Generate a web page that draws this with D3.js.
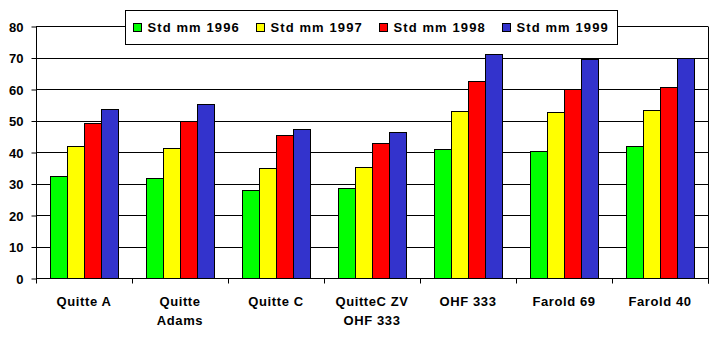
<!DOCTYPE html>
<html><head><meta charset="utf-8">
<script src="https://cdn.jsdelivr.net/npm/d3@7"></script>
<style>
html,body{margin:0;padding:0;background:#fff;}
svg text{font-family:"Liberation Sans",Arial,sans-serif;font-weight:bold;font-size:13px;fill:#000;}
</style></head>
<body><svg id="c" width="713" height="346"></svg>
<script>
const categories = [["Quitte A"],["Quitte","Adams"],["Quitte C"],["QuitteC ZV","OHF 333"],["OHF 333"],["Farold 69"],["Farold 40"]];
const seriesNames = ["Std mm 1996","Std mm 1997","Std mm 1998","Std mm 1999"];
const std1996 = [32.3, 31.6, 27.8, 28.5, 40.8, 40.2, 41.8];
const std1997 = [41.9, 41.2, 34.8, 35.2, 52.9, 52.6, 53.2];
const std1998 = [49.1, 49.9, 45.4, 42.7, 62.5, 60.0, 60.5];
const std1999 = [53.6, 55.1, 47.2, 46.2, 71.0, 69.4, 70.0];
const yTicks = [0,10,20,30,40,50,60,70,80];
const colors = ["#00FF00","#FFFF00","#FF0000","#3333CC"];

const series = [std1996, std1997, std1998, std1999];
const svg = d3.select("#c");
const L=36, R=708, T=26, B=278;
const catIdx = categories.map((d,i)=>i);
const x = d3.scaleBand().domain(catIdx).range([L,R]).paddingInner(0).paddingOuter(0);
const xs = d3.scaleBand().domain(d3.range(series.length)).range([13.5, x.bandwidth()-13.5]).padding(0);
const y = d3.scaleLinear().domain([0,80]).range([B,T]);

// gridlines
svg.append("g").selectAll("line").data(yTicks.filter(t=>t>0)).join("line")
  .attr("x1",L).attr("x2",R).attr("y1",d=>Math.round(y(d))+0.5).attr("y2",d=>Math.round(y(d))+0.5)
  .attr("stroke","#000").attr("stroke-width",1);
// right border
svg.append("line").attr("x1",R+0.5).attr("x2",R+0.5).attr("y1",Math.round(y(80))+0.5).attr("y2",B+5.5).attr("stroke","#000");

// bars
const g = svg.append("g");
series.forEach((s,si)=>{
  g.selectAll(null).data(s).join("rect")
    .attr("x",(d,i)=>Math.round(x(i)+xs(si))+0.5)
    .attr("y",d=>Math.round(y(d))+0.5)
    .attr("width",Math.round(xs.bandwidth()))
    .attr("height",d=>Math.round(y(0))-Math.round(y(d)))
    .attr("fill",colors[si]).attr("stroke","#000").attr("stroke-width",1);
});

// y axis
const yAxis = d3.axisLeft(y).tickValues(yTicks).tickSize(5).tickPadding(8).tickFormat(d3.format("d"));
const ya = svg.append("g").attr("transform",`translate(${L+0.5},0.5)`).call(yAxis);
ya.select(".domain").attr("d",`M0,${T}V${B}`).attr("stroke","#000");
ya.selectAll(".tick line").attr("stroke","#000");
ya.selectAll(".tick text").attr("font-size",null).attr("font-family",null).style("font-size","13px").attr("dy","0.35em");

// x axis
const xa = svg.append("g").attr("transform",`translate(0,${B+0.5})`);
xa.append("line").attr("x1",L).attr("x2",R+1).attr("y1",0).attr("y2",0).attr("stroke","#000");
const bounds = catIdx.map(i=>x(i)).concat([R]);
xa.selectAll("line.t").data(bounds).join("line").attr("class","t")
  .attr("x1",d=>Math.round(d)+0.5).attr("x2",d=>Math.round(d)+0.5).attr("y1",0).attr("y2",5).attr("stroke","#000");
const lbl = xa.selectAll("text").data(categories).join("text")
  .attr("text-anchor","middle").style("letter-spacing","0.6px")
  .attr("transform",(d,i)=>`translate(${x(i)+x.bandwidth()/2},0)`);
lbl.selectAll("tspan").data(d=>d).join("tspan").attr("x",0).attr("y",(d,j)=>27.5+j*19).text(d=>d);

// legend
const lg = svg.append("g");
lg.append("rect").attr("x",125.5).attr("y",10.5).attr("width",492).attr("height",34).attr("fill","#fff").attr("stroke","#000");
const items = lg.selectAll("g").data(seriesNames).join("g").attr("transform",(d,i)=>`translate(${133+i*123},0)`);
items.append("rect").attr("x",0.5).attr("y",23.5).attr("width",8).attr("height",8).attr("fill",(d,i)=>colors[i]).attr("stroke","#000");
items.append("text").attr("x",14.5).attr("y",32).style("letter-spacing","1.1px").text(d=>d);
</script></body></html>
